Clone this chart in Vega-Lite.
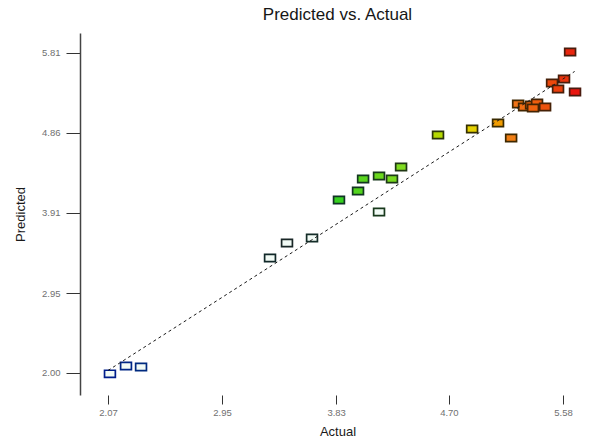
{
  "$schema": "https://vega.github.io/schema/vega-lite/v6.json",
  "autosize": "none",
  "width": 515,
  "height": 362,
  "padding": {"left": 80, "top": 33, "right": 0, "bottom": 48},
  "background": "white",
  "title": {
    "text": "Predicted vs. Actual",
    "font": "Liberation Sans",
    "fontSize": 17,
    "fontWeight": "normal",
    "color": "#161616",
    "anchor": "middle",
    "offset": 9
  },
  "config": {
    "view": {"stroke": null},
    "axis": {
      "grid": false,
      "labelFont": "Liberation Sans",
      "labelFontSize": 9.5,
      "labelColor": "#707070",
      "titleFont": "Liberation Sans",
      "titleFontSize": 13,
      "titleFontWeight": "normal",
      "titleColor": "#1a1a1a",
      "tickColor": "#333333",
      "domainColor": "#444444"
    }
  },
  "datasets": {
    "runs": [
      {"Actual": 2.085, "Predicted": 1.99},
      {"Actual": 2.209, "Predicted": 2.083},
      {"Actual": 2.325, "Predicted": 2.071},
      {"Actual": 3.32, "Predicted": 3.37},
      {"Actual": 3.451, "Predicted": 3.548},
      {"Actual": 3.644, "Predicted": 3.607},
      {"Actual": 3.852, "Predicted": 4.06},
      {"Actual": 3.999, "Predicted": 4.167},
      {"Actual": 4.038, "Predicted": 4.31},
      {"Actual": 4.161, "Predicted": 4.345},
      {"Actual": 4.261, "Predicted": 4.31},
      {"Actual": 4.331, "Predicted": 4.452},
      {"Actual": 4.161, "Predicted": 3.917},
      {"Actual": 4.616, "Predicted": 4.833},
      {"Actual": 4.879, "Predicted": 4.905},
      {"Actual": 5.079, "Predicted": 4.976},
      {"Actual": 5.18, "Predicted": 4.798},
      {"Actual": 5.234, "Predicted": 5.202},
      {"Actual": 5.28, "Predicted": 5.167},
      {"Actual": 5.334, "Predicted": 5.19},
      {"Actual": 5.38, "Predicted": 5.214},
      {"Actual": 5.349, "Predicted": 5.155},
      {"Actual": 5.442, "Predicted": 5.167},
      {"Actual": 5.496, "Predicted": 5.452},
      {"Actual": 5.542, "Predicted": 5.381},
      {"Actual": 5.588, "Predicted": 5.5},
      {"Actual": 5.673, "Predicted": 5.345},
      {"Actual": 5.635, "Predicted": 5.821}
    ],
    "reference": [
      {"Actual": 2.07, "Predicted": 2.03},
      {"Actual": 5.67, "Predicted": 5.59}
    ]
  },
  "layer": [
    {
      "mark": {"type": "rule", "color": "#444444", "strokeWidth": 1.5},
      "encoding": {
        "y": {"datum": 6.048, "type": "quantitative", "scale": {"domain": [1.738, 6.048], "nice": false, "zero": false}}
      }
    },
    {
      "data": {"name": "runs"},
      "mark": {
        "type": "point",
        "shape": "M-1.5,-1H1.5V1H-1.5Z",
        "size": 52,
        "filled": false,
        "opacity": 1,
        "strokeWidth": 1.7
      },
      "encoding": {
        "x": {
          "field": "Actual",
          "type": "quantitative",
          "scale": {"domain": [1.854, 5.827], "nice": false, "zero": false},
          "axis": {
            "values": [2.07, 2.95, 3.83, 4.70, 5.58],
            "format": ".2f",
            "domain": false,
            "tickSize": 9,
            "labelPadding": 3,
            "titlePadding": 9
          }
        },
        "y": {
          "field": "Predicted",
          "type": "quantitative",
          "scale": {"domain": [1.738, 6.048], "nice": false, "zero": false},
          "axis": {
            "values": [2.00, 2.95, 3.91, 4.86, 5.81],
            "format": ".2f",
            "domainWidth": 1.5,
            "tickSize": 14,
            "labelPadding": 6,
            "titlePadding": 14
          }
        },
        "fill": {
          "condition": {"test": "datum.Predicted < 4", "value": "#f2fbf6"},
          "field": "Actual",
          "type": "quantitative",
          "scale": {
            "domain": [2.0, 3.4, 3.8, 4.4, 4.9, 5.2, 5.7],
            "range": ["#1a1aa8", "#30d8c8", "#28d020", "#88dd22", "#e8d000", "#f07818", "#e80010"]
          },
          "legend": null
        },
        "stroke": {
          "field": "Actual",
          "type": "quantitative",
          "scale": {
            "domain": [2.0, 3.4, 4.2, 5.7],
            "range": ["#14148c", "#1a2626", "#1a3a1a", "#4a1a10"]
          },
          "legend": null
        }
      }
    },
    {
      "data": {"name": "reference"},
      "mark": {"type": "line", "color": "#1a1a1a", "strokeWidth": 1, "strokeDash": [3, 3]},
      "encoding": {
        "x": {"field": "Actual", "type": "quantitative"},
        "y": {"field": "Predicted", "type": "quantitative"}
      }
    }
  ]
}
